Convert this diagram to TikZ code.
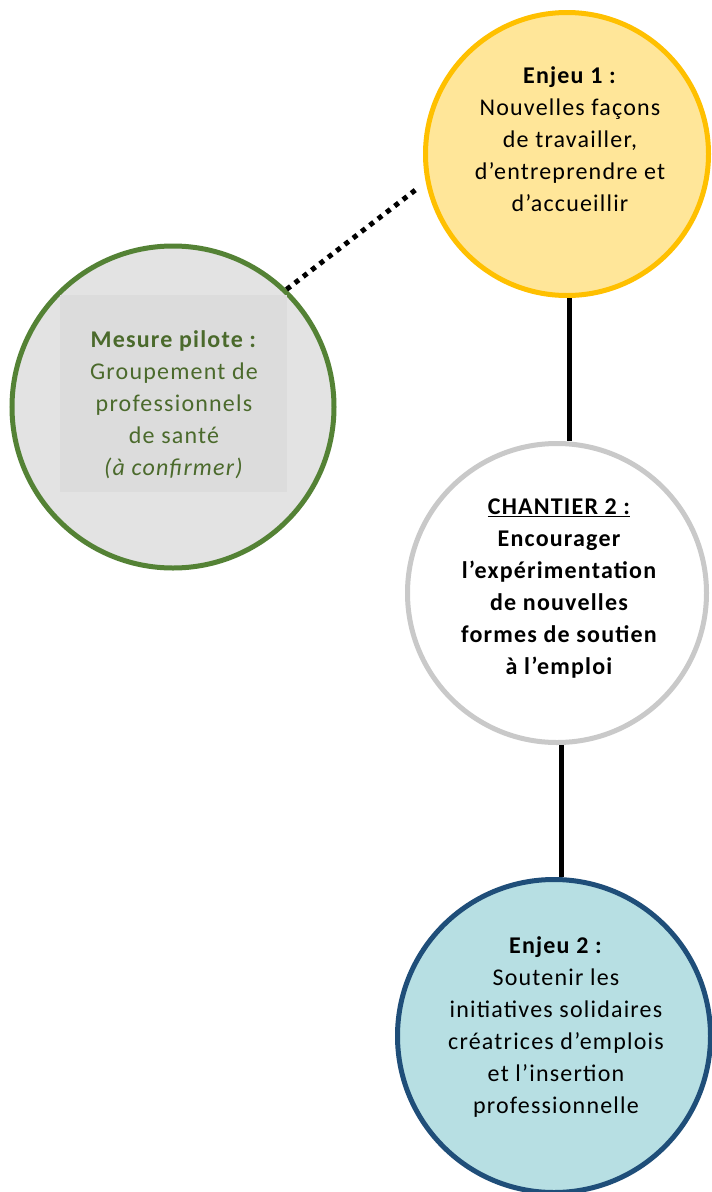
\documentclass[tikz,border=0pt]{standalone}
\usepackage{fontspec}
\setmainfont{Carlito}[LetterSpace=5]
\usetikzlibrary{calc}
\definecolor{yfill}{HTML}{FFE699}
\definecolor{yborder}{HTML}{FFC000}
\definecolor{gfill}{HTML}{E3E3E3}
\definecolor{grect}{HTML}{DCDCDC}
\definecolor{gborder}{HTML}{548235}
\definecolor{gtext}{HTML}{4B6A2C}
\definecolor{cborder}{HTML}{C9C9C9}
\definecolor{bfill}{HTML}{B7DFE3}
\definecolor{bborder}{HTML}{1F4E79}
\begin{document}
\begin{tikzpicture}[x=1pt,y=-1pt,
  bubble/.style={circle, line width=5pt, inner sep=0pt},
  txt/.style={align=center, inner sep=0pt, font=\fontsize{24}{32}\selectfont},
  link/.style={line width=5pt, black},
  dotlink/.style={line width=5pt, black, dash pattern=on 5pt off 5.5pt}]
\useasboundingbox (0,0) rectangle (712,1192);
\fill[white] (0,0) rectangle (712,1192);
% circles
\node[bubble, draw=yborder, fill=yfill, minimum size=283pt] (Y) at (567,154) {};
\node[bubble, draw=gborder, fill=gfill, minimum size=322pt] (G) at (173,407) {};
\node[bubble, draw=cborder, fill=white, minimum size=299pt] (C) at (557,593) {};
\node[bubble, draw=bborder, fill=bfill, minimum size=313pt] (B) at (554,1036) {};
% inner box of the pilot measure
\node[fill=grect, minimum width=227pt, minimum height=197pt, inner sep=0pt] (Gbox) at (173.5,393.5) {};
% texts
\node[txt] (Yt) at (570,139) {\textbf{Enjeu 1 :}\\Nouvelles façons\\de travailler,\\d’entreprendre et\\d’accueillir};
\node[txt, text=gtext] (Gt) at (174,405) {\textbf{Mesure pilote :}\\Groupement de\\professionnels\\de santé\\\textit{(à confirmer)}};
\node[txt, font=\fontsize{24}{32}\selectfont\bfseries] (Ct) at (559,589) {\underline{CHANTIER 2 :}\\Encourager\\l’expérimentation\\de nouvelles\\formes de soutien\\à l’emploi};
\node[txt] (Bt) at (556,1027) {\textbf{Enjeu 2 :}\\Soutenir les\\initiatives solidaires\\créatrices d’emplois\\et l’insertion\\professionnelle};
% connectors
\coordinate (d1) at (418,188);
\draw[dotlink] (G.46.7) -- (d1);
\draw[link] ($(Y.south)+(2,0)$) coordinate (a1) -- (a1 |- C.north);
\draw[link] ($(C.south)+(4,0)$) coordinate (a2) -- (a2 |- B.north);
\end{tikzpicture}
\end{document}
